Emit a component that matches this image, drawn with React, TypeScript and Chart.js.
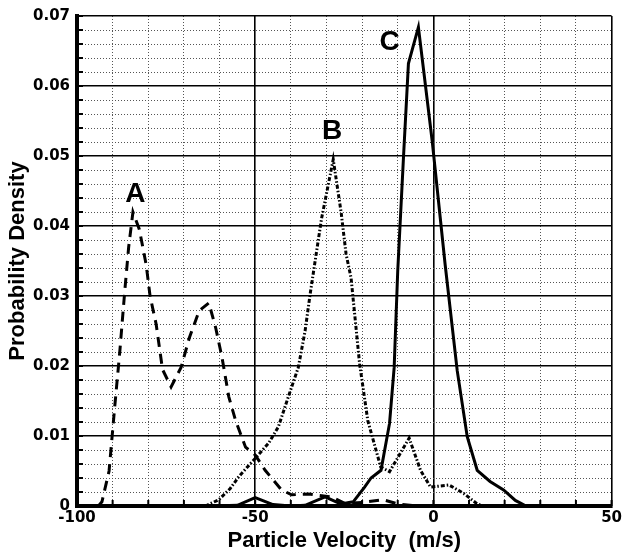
import React, { useEffect, useRef } from "react";
import { Chart, registerables } from "chart.js";
Chart.register(...registerables);

// Curve A (dashed)
const aVel = [-94, -93, -91, -89.5, -88, -86.6, -85.5, -84.3, -82.5, -80.6, -79.5, -77.8, -76, -73.6, -70.8, -68.5, -65.7, -63, -61.1, -59.3, -57.4, -55.5, -52.7, -50, -47.2, -42.6, -39.8, -35, -28.6, -25, -20, -14.2, -10, -5];
const aDen = [0, 0.0006, 0.005, 0.0137, 0.022, 0.0307, 0.037, 0.042, 0.0395, 0.0345, 0.03, 0.026, 0.0195, 0.017, 0.0198, 0.024, 0.0279, 0.029, 0.0255, 0.0212, 0.0156, 0.0122, 0.0084, 0.0073, 0.0051, 0.0023, 0.0016, 0.0017, 0.0013, 0.0004, 0.0005, 0.0009, 0.0003, 0];

// Curve B (dash-dot)
const bVel = [-64, -60.2, -57, -54.6, -50, -46.2, -43.5, -40.7, -37.9, -36, -34.6, -31.4, -28.1, -25.9, -24.5, -23.1, -20.7, -18.4, -14.8, -12.3, -6.8, -3.6, -0.8, 4.4, 8.5, 12.3, 14];
const bDen = [0, 0.0009, 0.0025, 0.0042, 0.0068, 0.009, 0.0113, 0.0156, 0.0198, 0.025, 0.0302, 0.041, 0.0495, 0.042, 0.036, 0.0326, 0.0203, 0.0122, 0.0056, 0.0049, 0.0097, 0.0051, 0.0027, 0.003, 0.0018, 0.0003, 0];

// Curve C (solid)
const cVel = [-62, -55, -50, -45, -40, -36, -30.4, -26, -22.5, -19.3, -17.5, -14.7, -12.3, -11, -10, -8.4, -7, -4.2, -0.3, 3.3, 6.7, 9.5, 12.3, 15.9, 19.7, 23, 26];
const cDen = [0, 0.0001, 0.0012, 0.0002, 0, 0.0001, 0.0013, 0.0003, 0.0006, 0.0027, 0.004, 0.0051, 0.0118, 0.0198, 0.0336, 0.0497, 0.0632, 0.0684, 0.052, 0.0345, 0.0193, 0.0099, 0.0051, 0.0035, 0.0023, 0.0008, 0];

const xTickLabels = [-100, -50, 0, 50];
const yTickLabels = ["0", "0.01", "0.02", "0.03", "0.04", "0.05", "0.06", "0.07"];

const curveNames = ["A", "B", "C"];
const curveNameVel = [-83.6, -28.4, -12.3];
const curveNameDen = [0.0445, 0.0535, 0.0663];

const isMajorX = (v: any) => typeof v === "number" && Math.round(v) % 50 === 0;
const isMajorY = (v: any) => typeof v === "number" && Math.round(v * 1000) % 10 === 0;

export default function App() {
  const ref = useRef<HTMLCanvasElement>(null);
  useEffect(() => {
    const pts = (xs: number[], ys: number[]) => xs.map((x, i) => ({ x, y: ys[i] }));

    const extras = {
      id: "extras",
      afterDraw(chart: any) {
        const ctx = chart.ctx;
        const xs = chart.scales.x;
        const ys = chart.scales.y;
        const area = chart.chartArea;
        ctx.save();
        ctx.strokeStyle = "#000";
        ctx.lineWidth = 2;
        ctx.beginPath();
        for (let k = 0; k <= 35; k++) {
          const py = ys.getPixelForValue(k * 0.002);
          ctx.moveTo(area.left, py);
          ctx.lineTo(area.left + 6, py);
        }
        for (let k = -100; k <= 50; k += 10) {
          const px = xs.getPixelForValue(k);
          ctx.moveTo(px, area.bottom);
          ctx.lineTo(px, area.bottom - 6);
        }
        ctx.stroke();
        ctx.fillStyle = "#000";
        ctx.font = "bold 28px 'Liberation Sans', Arial, sans-serif";
        ctx.textAlign = "center";
        ctx.textBaseline = "middle";
        curveNames.forEach((n, i) => {
          ctx.fillText(n, xs.getPixelForValue(curveNameVel[i]), ys.getPixelForValue(curveNameDen[i]));
        });
        ctx.restore();
      },
    };

    const chart = new Chart(ref.current as HTMLCanvasElement, {
      type: "line",
      data: {
        datasets: [
          { label: "A", data: pts(aVel, aDen), borderColor: "#000", borderWidth: 3, borderDash: [10, 7], pointRadius: 0, tension: 0, fill: false },
          { label: "B", data: pts(bVel, bDen), borderColor: "#000", borderWidth: 3, borderDash: [4, 2, 1.5, 2], pointRadius: 0, tension: 0, fill: false },
          { label: "C", data: pts(cVel, cDen), borderColor: "#000", borderWidth: 3, pointRadius: 0, tension: 0, fill: false },
        ],
      },
      options: {
        animation: false,
        responsive: false,
        maintainAspectRatio: false,
        layout: { padding: { top: 14, right: 10, left: 0, bottom: 0 } },
        plugins: { legend: { display: false }, tooltip: { enabled: false } },
        scales: {
          x: {
            type: "linear",
            min: -100,
            max: 50,
            afterFit: (s: any) => { s.height = 48; },
            ticks: {
              stepSize: 10,
              autoSkip: false,
              maxRotation: 0,
              padding: 3,
              color: "#000",
              font: { family: "'DejaVu Sans'", weight: "bold", size: 15 },
              callback: (v: any) => (xTickLabels.includes(Math.round(v)) && isMajorX(v) ? String(Math.round(v)) : ""),
            },
            grid: {
              drawTicks: false,
              color: (c: any) => (c.tick && isMajorX(c.tick.value) ? "#000" : "#555"),
              lineWidth: (c: any) => (c.tick && isMajorX(c.tick.value) ? 1.6 : 1),
            },
            border: {
              display: true,
              color: "#000",
              width: 4,
              dash: (c: any) => (c.tick && !isMajorX(c.tick.value) ? [1, 2] : []),
            },
            title: {
              display: true,
              text: "Particle Velocity  (m/s)",
              color: "#000",
              font: { family: "'Liberation Sans'", weight: "bold", size: 22 },
              padding: { top: 0, bottom: 0 },
            },
          },
          y: {
            type: "linear",
            min: 0,
            max: 0.07,
            afterFit: (s: any) => { s.width = 77; },
            ticks: {
              stepSize: 0.002,
              autoSkip: false,
              padding: 7,
              color: "#000",
              font: { family: "'DejaVu Sans'", weight: "bold", size: 15 },
              callback: (v: any) => {
                const r = Math.round(v * 1000);
                return r % 10 === 0 ? yTickLabels[r / 10] ?? "" : "";
              },
            },
            grid: {
              drawTicks: false,
              color: (c: any) => (c.tick && isMajorY(c.tick.value) ? "#000" : "#555"),
              lineWidth: (c: any) => (c.tick && isMajorY(c.tick.value) ? 1.6 : 1),
            },
            border: {
              display: true,
              color: "#000",
              width: 4,
              dash: (c: any) => (c.tick && !isMajorY(c.tick.value) ? [1, 2] : []),
            },
            title: {
              display: true,
              text: "Probability Density",
              color: "#000",
              font: { family: "'Liberation Sans'", weight: "bold", size: 22 },
              padding: { top: 5, bottom: 0 },
            },
          },
        },
      },
      plugins: [extras],
    } as any);
    return () => chart.destroy();
  }, []);

  return (
    <div style={{ position: "fixed", left: 0, top: 0, width: 625, height: 554, background: "#fff" }}>
      <canvas ref={ref} width={625} height={554} style={{ display: "block", width: 625, height: 554 }} />
    </div>
  );
}
